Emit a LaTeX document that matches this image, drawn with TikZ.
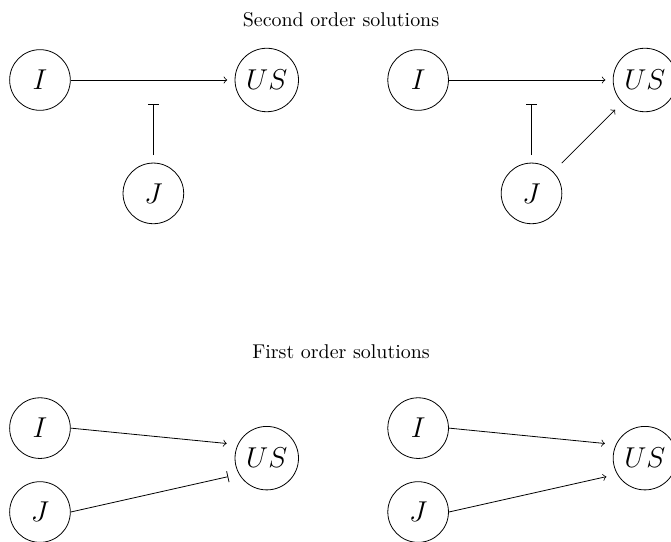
\documentclass[tikz,border=0pt]{standalone}
\begin{document}
\begin{tikzpicture}

        \useasboundingbox (-0.705,-8.148) rectangle (11.13,1.411);

        \node (second) at (5.31,1.06)  {Second order solutions};
        \node (first)  at (5.31,-4.80) {First order solutions};

        \begin{scope}[every node/.style={circle,draw,minimum size=1.07cm,font=\Large}]
          % second order
          \node (I1)  at (0,0)        {$I$};
          \node (US1) at (4,0)        {$US$};
          \node (J1)  at (2,-2)       {$J$};
          \node (I2)  at (6.67,0)     {$I$};
          \node (US2) at (10.67,0)    {$US$};
          \node (J2)  at (8.67,-2)    {$J$};
          % first order
          \node (I3)  at (0,-6.14)    {$I$};
          \node (US3) at (4,-6.67)    {$US$};
          \node (J3)  at (0,-7.62)    {$J$};
          \node (I4)  at (6.67,-6.14) {$I$};
          \node (US4) at (10.67,-6.67) {$US$};
          \node (J4)  at (6.67,-7.62) {$J$};
        \end{scope}

        \coordinate (B1) at (2,-0.42);
        \coordinate (B2) at (8.67,-0.42);

        \begin{scope}[every edge/.style={draw}]
          \path (I1)  edge[->, shorten >=3.7pt] (US1);
          \path (J1)  edge[-|, shorten <=3.8pt] (B1);
          \path (I2)  edge[->, shorten >=3.7pt] (US2);
          \path (J2)  edge[-|, shorten <=3.8pt] (B2);
          \path (J2)  edge[->, shorten <=6pt, shorten >=5pt] (US2);
          \path (I3.east) edge[->, shorten >=5.5pt] (US3.155);
          \path (J3.east) edge[-|, shorten >=5.5pt] (US3.210);
          \path (I4.east) edge[->, shorten >=5.5pt] (US4.155);
          \path (J4.east) edge[->, shorten >=5.5pt] (US4.210);
        \end{scope}

      \end{tikzpicture}
\end{document}
